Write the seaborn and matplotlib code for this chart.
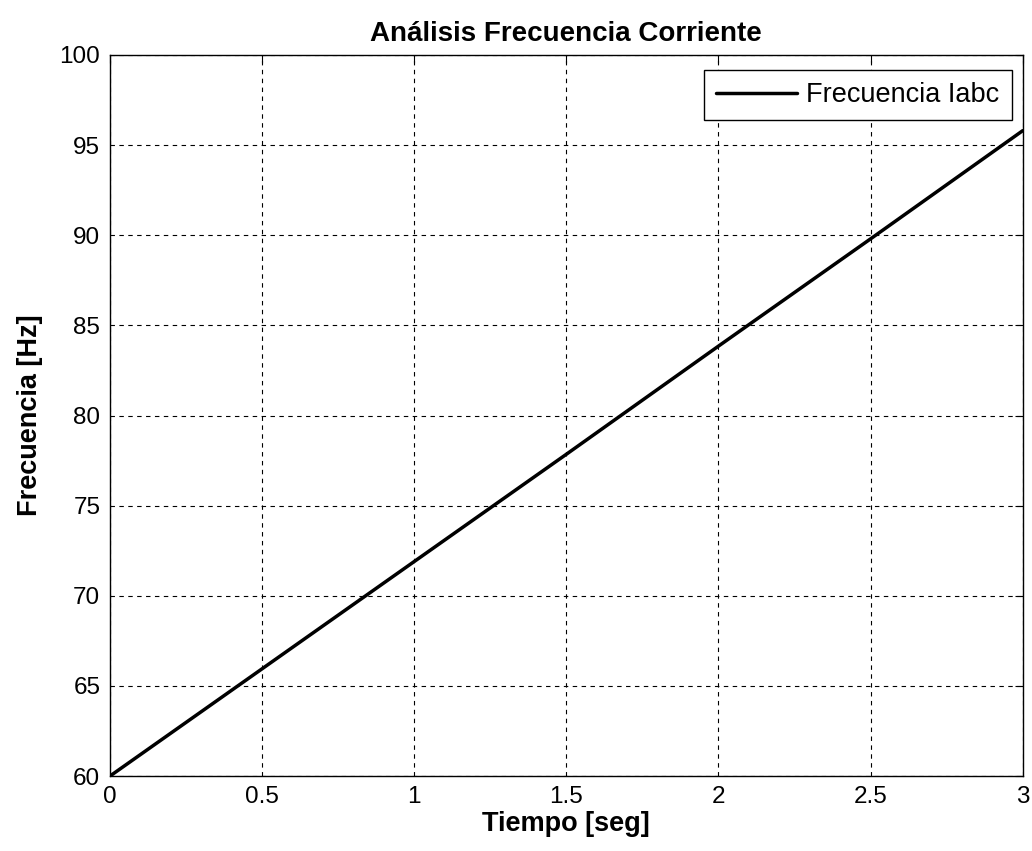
import numpy as np
import pandas as pd
import matplotlib
matplotlib.use("Agg")
import matplotlib.pyplot as plt
import seaborn as sns

# values
tiempo = [0.0, 0.5, 1.0, 1.5, 2.0, 2.5, 3.0]
frecuencia = [60.0, 65.95, 71.9, 77.85, 83.85, 89.8, 95.8]
x_ticks = [0, 0.5, 1, 1.5, 2, 2.5, 3]
x_tick_labels = ["0", "0.5", "1", "1.5", "2", "2.5", "3"]
y_ticks = [60, 65, 70, 75, 80, 85, 90, 95, 100]

df = pd.DataFrame({"Tiempo": tiempo, "Frecuencia": frecuencia})

sns.set_style("white")
plt.rcParams["font.family"] = ["Liberation Sans", "DejaVu Sans"]
plt.rcParams["text.color"] = "black"
plt.rcParams["axes.labelcolor"] = "black"

fig = plt.figure(figsize=(10.32, 8.51), dpi=100)
ax = fig.add_axes([0.1066, 0.0881, 0.8844, 0.8473])

sns.lineplot(data=df, x="Tiempo", y="Frecuencia", color="black",
             linewidth=2.5, label="Frecuencia Iabc", ax=ax)

ax.set_xlim(0, 3)
ax.set_ylim(60, 100)
ax.set_xticks(x_ticks)
ax.set_xticklabels(x_tick_labels)
ax.set_yticks(y_ticks)

ax.grid(True, color="black", linestyle=(0, (4, 4)), linewidth=0.8)
ax.tick_params(direction="in", length=6, width=0.8, colors="black",
               labelsize=17.5, top=True, right=True, pad=7)
for s in ax.spines.values():
    s.set_color("black")
    s.set_linewidth(1.0)

ax.set_xlabel("Tiempo [seg]", fontsize=19.5, fontweight="bold", labelpad=2)
ax.set_ylabel("Frecuencia [Hz]", fontsize=19.5, fontweight="bold", labelpad=12)
ax.set_title("Análisis Frecuencia Corriente", fontsize=20, fontweight="bold",
             pad=10, color="black")

leg = ax.legend(loc="upper right", bbox_to_anchor=(0.988, 0.979),
                fontsize=19.5, frameon=True, fancybox=False,
                edgecolor="black", framealpha=1, handlelength=3.0,
                handletextpad=0.35, borderaxespad=0, borderpad=0.45)
leg.get_frame().set_linewidth(1.0)

fig.savefig("out.png", dpi=100, facecolor="white")
